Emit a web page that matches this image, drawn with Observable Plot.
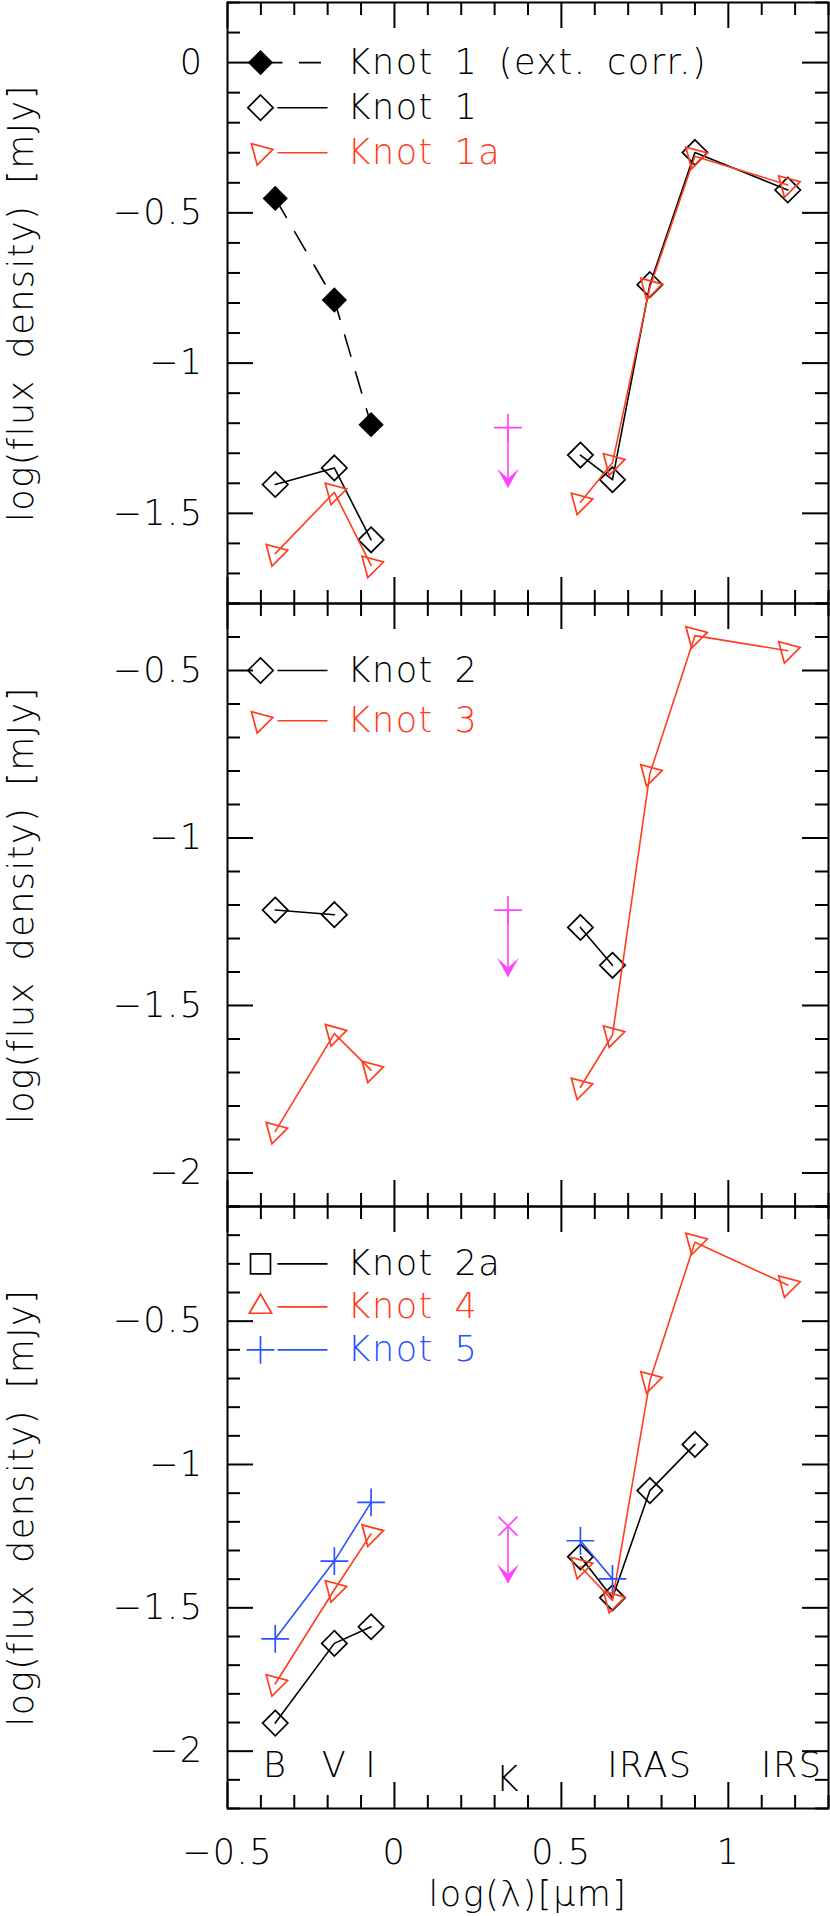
<!DOCTYPE html>
<html><head><meta charset="utf-8">
<script src="https://cdn.jsdelivr.net/npm/d3@7"></script>
<script src="https://cdn.jsdelivr.net/npm/@observablehq/plot@0.6"></script>
<style>
body{margin:0;background:#fff;}
#chart svg{display:block;overflow:visible;}
</style></head><body><div id="chart"></div>
<script>
// ---- data ----
const bands = ["B","V","I","IRAC1","IRAC2","IRAC3","IRAC4","IRS"];
const bandGroup = ["opt","opt","opt","ir","ir","ir","ir","ir"];
const logLambda = [-0.357,-0.18,-0.07,0.557,0.653,0.765,0.900,1.178];

const knot1ext = [-0.452,-0.790,-1.205,null,null,null,null,null];
const knot1    = [-1.404,-1.349,-1.588,-1.306,-1.388,-0.739,-0.299,-0.424];
const knot1a   = [-1.634,-1.430,-1.673,-1.463,-1.332,-0.748,-0.312,-0.407];
const knot2    = [-1.215,-1.229,null,-1.267,-1.380,null,null,null];
const knot3    = [-1.876,-1.584,-1.693,-1.744,-1.588,-0.808,-0.396,-0.441];
const knot2a   = [-1.902,-1.624,-1.566,-1.322,-1.465,-1.091,-0.930,null];
const knot4    = [-1.765,-1.437,-1.242,-1.356,-1.474,-0.708,-0.225,-0.374];
const knot5    = [-1.608,-1.337,-1.132,-1.266,-1.399,null,null,null];

// K-band upper limit
const limitX = [0.34];
const limitY = [-1.215];
const limitTip = [-1.415];

// tick labels
const xTickVals = [-0.5, 0, 0.5, 1];
const xTickLabels = ["\u22120.5", "0", "0.5", "1"];
const yTickVals1 = [0, -0.5, -1, -1.5];
const yTickLabels1 = ["0", "\u22120.5", "\u22121", "\u22121.5"];
const yTickVals23 = [-0.5, -1, -1.5, -2];
const yTickLabels23 = ["\u22120.5", "\u22121", "\u22121.5", "\u22122"];

// band labels
const bandLabelText = ["B", "V", "I", "IRAS", "IRS"];
const bandLabelX = [-0.357, -0.18, -0.07, 0.765, 1.19];
const kLabelText = ["K"];
const kLabelX = [0.34];

const yLabel = "log(flux density) [mJy]";
const xLabel = "log(\u03bb)[\u03bcm]";

// ---- style ----
const W = 830, ML = 227, MR = 2;
const xDomain = [-0.5, 1.3];
const FONT = "DejaVu Sans";
const FS = 35;
const MAG = "#ff44ff", RED = "#ff3c1e", BLUE = "#2a52ff", BLK = "black";

function ticksBetween(lo, hi, step) {
  const out = [];
  const n0 = Math.ceil(lo / step - 1e-9), n1 = Math.floor(hi / step + 1e-9);
  for (let i = n0; i <= n1; i++) out.push(+(i * step).toFixed(4));
  return out;
}

function rowsOf(values) {
  return bands.map((b, i) => ({band: b, x: logLambda[i], y: values[i], g: bandGroup[i]}))
              .filter(d => d.y != null);
}

function sym(kind, color) {
  const sw = 1.7;
  switch (kind) {
    case "fdiamond": return {symbol: "diamond2", r: 11.4, fill: color, stroke: "none"};
    case "diamond":  return {symbol: "diamond2", r: 11.4, fill: "none", stroke: color, strokeWidth: sw};
    case "tri":      return {symbol: "triangle2", r: 10.6, rotate: 75, fill: "none", stroke: color, strokeWidth: sw};
    case "triUp":    return {symbol: "triangle2", r: 10.6, rotate: 0, fill: "none", stroke: color, strokeWidth: sw};
    case "square":   return {symbol: "square2", r: 12.7, fill: "none", stroke: color, strokeWidth: sw};
    case "plus":     return {symbol: "plus", r: 9, fill: "none", stroke: color, strokeWidth: sw};
    case "times":    return {symbol: "times", r: 8.7, fill: "none", stroke: color, strokeWidth: sw};
  }
}

const arrowHead = {
  draw(ctx, size) {
    const s = Math.sqrt(size / Math.PI);
    ctx.moveTo(0, 0);
    ctx.lineTo(-s, -1.75 * s);
    ctx.lineTo(0, -0.85 * s);
    ctx.lineTo(s, -1.75 * s);
    ctx.closePath();
  }
};

const textBase = {fontFamily: FONT, fontSize: FS, fontWeight: 200};

function panel(cfg) {
  const {yDomain, height, marginTop, marginBottom, series, legend, limitKind, yTickVals, yTickLabels, bottom} = cfg;
  const innerH = height - marginTop - marginBottom;
  const innerW = W - ML - MR;
  const [yLo, yHi] = yDomain;
  const pxX = innerW / (xDomain[1] - xDomain[0]);
  const xAt = px => xDomain[0] + px / pxX;
  const marks = [];

  // ticks
  const tick = {stroke: BLK, strokeWidth: 2};
  const yMaj = ticksBetween(yLo, yHi, 0.5);
  const yMin = ticksBetween(yLo, yHi, 0.1).filter(v => !yMaj.includes(v));
  const xMaj = ticksBetween(xDomain[0], xDomain[1], 0.5);
  const xMin = ticksBetween(xDomain[0], xDomain[1], 0.1).filter(v => !xMaj.includes(v));
  marks.push(
    Plot.ruleY(yMaj, {y: d => d, insetRight: innerW - 26, ...tick}),
    Plot.ruleY(yMaj, {y: d => d, insetLeft: innerW - 26, ...tick}),
    Plot.ruleY(yMin, {y: d => d, insetRight: innerW - 13, ...tick}),
    Plot.ruleY(yMin, {y: d => d, insetLeft: innerW - 13, ...tick}),
    Plot.ruleX(xMaj, {x: d => d, insetTop: innerH - 26, ...tick}),
    Plot.ruleX(xMaj, {x: d => d, insetBottom: innerH - 26, ...tick}),
    Plot.ruleX(xMin, {x: d => d, insetTop: innerH - 13, ...tick}),
    Plot.ruleX(xMin, {x: d => d, insetBottom: innerH - 13, ...tick}),
    Plot.frame({stroke: BLK, strokeWidth: 2})
  );

  // y tick labels + y title
  marks.push(
    Plot.text(yTickVals, {y: d => d, text: (d, i) => yTickLabels[i], frameAnchor: "left",
      textAnchor: "end", lineAnchor: "middle", dx: -24, fill: BLK, ...textBase}),
    Plot.text([yLabel], {text: d => d, frameAnchor: "left", rotate: -90, lineAnchor: "bottom",
      textAnchor: "middle", dx: 32 - ML, fill: BLK, ...textBase})
  );

  // upper limit at K
  const lim = limitX.map((x, i) => ({x, y: limitY[i], tip: limitTip[i]}));
  marks.push(
    Plot.ruleX(lim, {x: "x", y1: "y", y2: "tip", stroke: MAG, strokeWidth: 1.6}),
    Plot.dot(lim, {x: "x", y: "tip", symbol: arrowHead, r: 11, fill: MAG, stroke: "none"}),
    Plot.dot(lim, {x: "x", y: "y", ...sym(limitKind, MAG)})
  );

  // series
  for (const s of series) {
    const rows = rowsOf(s.values);
    marks.push(Plot.line(rows, {x: "x", y: "y", z: "g", stroke: s.color, strokeWidth: 1.6,
      strokeDasharray: s.dash || null}));
    marks.push(Plot.dot(rows, {x: "x", y: "y", ...sym(s.kind, s.color)}));
  }

  // legend
  legend.forEach((e, i) => {
    const y = yHi - 0.2 - 0.15 * i;
    const lineRow = [{x1: xAt(e.dash ? 33 : 50), x2: xAt(100), y}];
    marks.push(
      Plot.link(lineRow, {x1: "x1", x2: "x2", y1: "y", y2: "y", stroke: e.color, strokeWidth: 1.6,
        strokeDasharray: e.dash || null}),
      Plot.dot([{x: xAt(33), y}], {x: "x", y: "y", ...sym(e.kind, e.color)}),
      Plot.text([{x: xAt(120), y, t: e.label}], {x: "x", y: "y", text: "t", textAnchor: "start",
        lineAnchor: "middle", fill: e.color, ...textBase})
    );
  });

  if (bottom) {
    marks.push(
      Plot.text(bandLabelText, {x: (d, i) => bandLabelX[i], text: d => d, frameAnchor: "bottom",
        lineAnchor: "bottom", dy: -32, fill: BLK, ...textBase}),
      Plot.text(kLabelText, {x: (d, i) => kLabelX[i], text: d => d, frameAnchor: "bottom",
        lineAnchor: "bottom", dy: -18, fill: BLK, ...textBase}),
      Plot.text(xTickVals, {x: d => d, text: (d, i) => xTickLabels[i], frameAnchor: "bottom",
        lineAnchor: "bottom", dy: 55, fill: BLK, ...textBase}),
      Plot.text([xLabel], {text: d => d, frameAnchor: "bottom", lineAnchor: "bottom", dy: 97,
        fill: BLK, ...textBase})
    );
  }

  const svg = Plot.plot({
    width: W, height, marginLeft: ML, marginRight: MR, marginTop, marginBottom,
    x: {domain: xDomain, axis: null},
    y: {domain: yDomain, axis: null},
    style: {background: "white", letterSpacing: "1.5px", wordSpacing: "8px", overflow: "visible"},
    marks
  });
  return svg;
}

const chart = document.getElementById("chart");

chart.append(panel({
  yDomain: [-1.8, 0.2], height: 603, marginTop: 2, marginBottom: 0,
  yTickVals: yTickVals1, yTickLabels: yTickLabels1, limitKind: "plus",
  series: [
    {values: knot1ext, color: BLK, kind: "fdiamond", dash: "22 16.5"},
    {values: knot1, color: BLK, kind: "diamond"},
    {values: knot1a, color: RED, kind: "tri"}
  ],
  legend: [
    {label: "Knot 1 (ext. corr.)", color: BLK, kind: "fdiamond", dash: "22 16.5"},
    {label: "Knot 1", color: BLK, kind: "diamond"},
    {label: "Knot 1a", color: RED, kind: "tri"}
  ]
}));

chart.append(panel({
  yDomain: [-2.1, -0.3], height: 603, marginTop: 0, marginBottom: 0,
  yTickVals: yTickVals23, yTickLabels: yTickLabels23, limitKind: "plus",
  series: [
    {values: knot2, color: BLK, kind: "diamond"},
    {values: knot3, color: RED, kind: "tri"}
  ],
  legend: [
    {label: "Knot 2", color: BLK, kind: "diamond"},
    {label: "Knot 3", color: RED, kind: "tri"}
  ]
}));

chart.append(panel({
  yDomain: [-2.2, -0.1], height: 710, marginTop: 0, marginBottom: 108,
  yTickVals: yTickVals23, yTickLabels: yTickLabels23, limitKind: "times", bottom: true,
  series: [
    {values: knot2a, color: BLK, kind: "diamond"},
    {values: knot4, color: RED, kind: "tri"},
    {values: knot5, color: BLUE, kind: "plus"}
  ],
  legend: [
    {label: "Knot 2a", color: BLK, kind: "square"},
    {label: "Knot 4", color: RED, kind: "triUp"},
    {label: "Knot 5", color: BLUE, kind: "plus"}
  ]
}));
</script></body></html>
